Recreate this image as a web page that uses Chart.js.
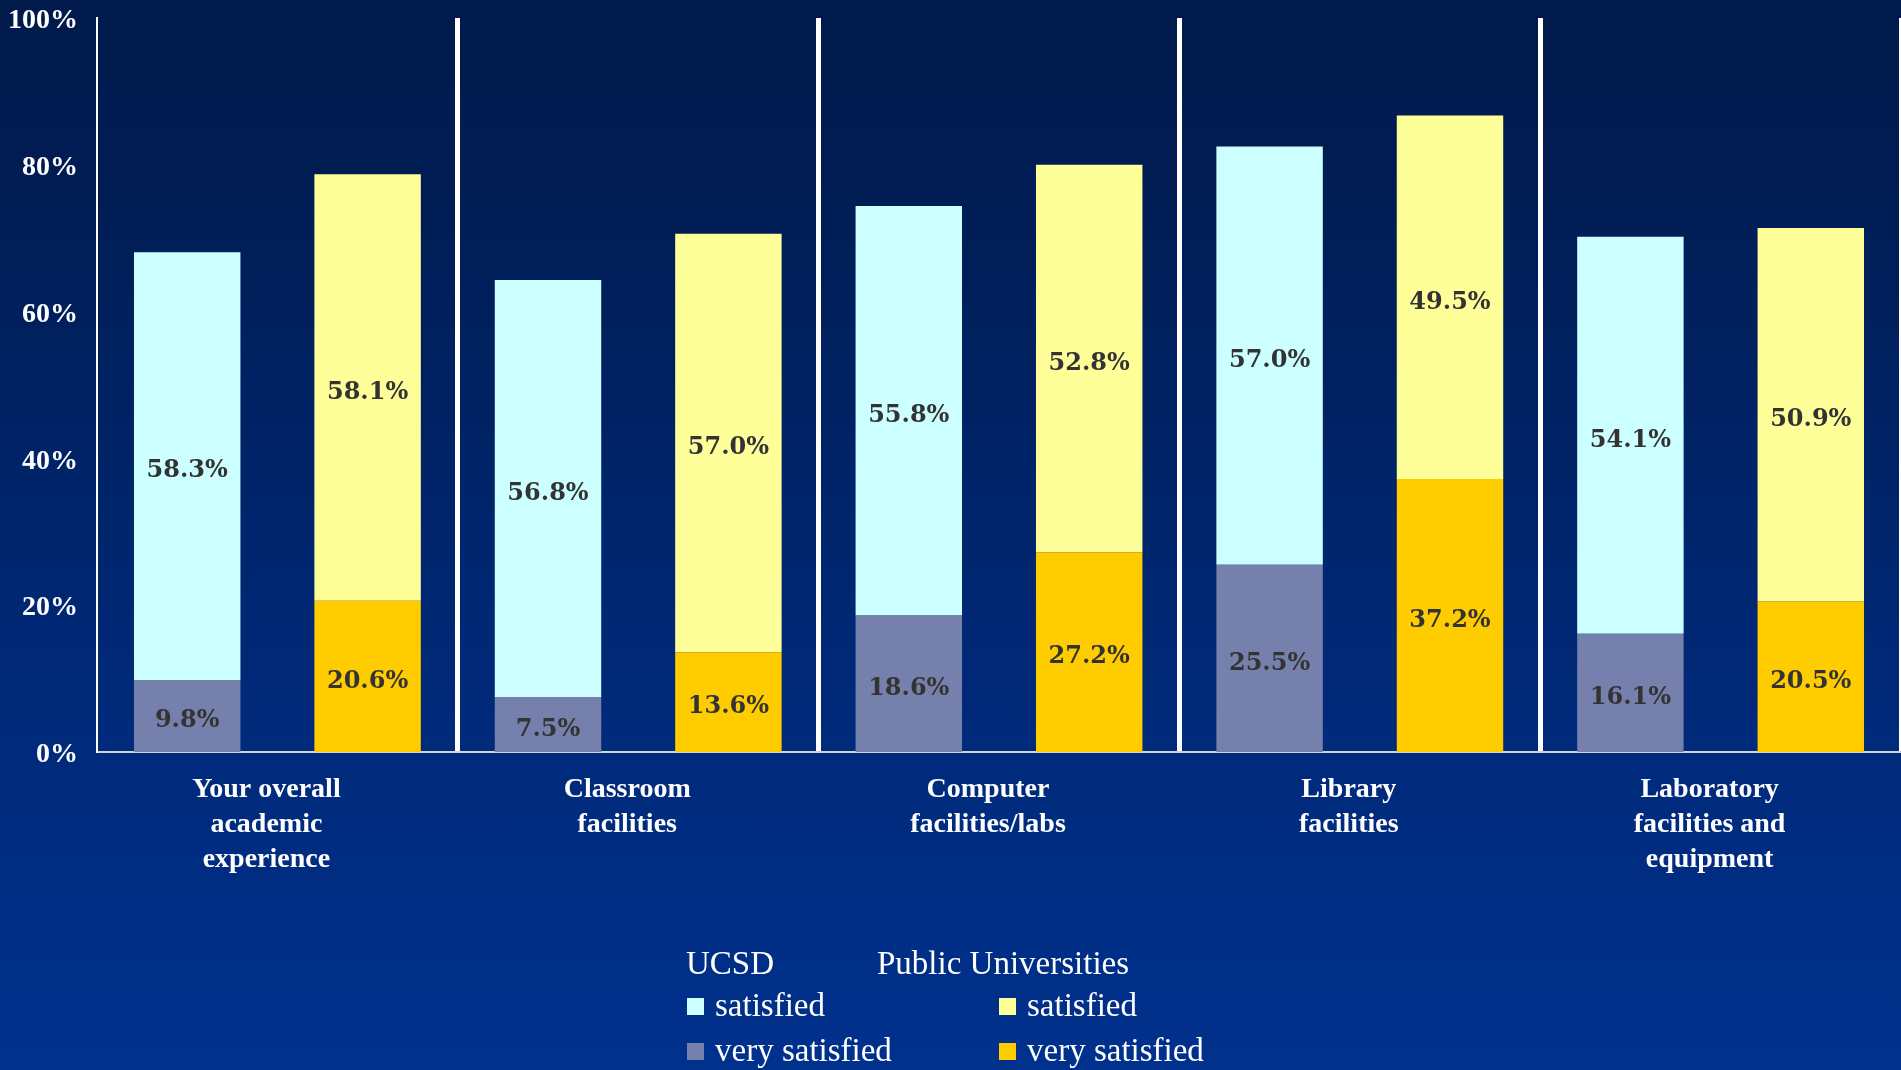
<!DOCTYPE html>
<html>
<head>
<meta charset="utf-8">
<script src="https://cdn.jsdelivr.net/npm/chart.js@4"></script>
<style>
  html, body { margin: 0; padding: 0; overflow: hidden; }
  body {
    width: 1901px; height: 1070px; position: relative;
    background: linear-gradient(to bottom, #001a4b 0%, #001d55 20%, #002875 60%, #00318d 100%);
  }
  #c { position: absolute; left: 0; top: 0; }
  .lg { position: absolute; color: #ffffff; font-family: "Liberation Serif", serif; font-size: 33px; line-height: 1; white-space: nowrap; }
  .sw { display: inline-block; width: 17px; height: 17px; margin-right: 11px; vertical-align: 1px; }
</style>
</head>
<body>
<canvas id="c" width="1901" height="1070"></canvas>
<div id="legend"></div>
<script>
const categories = [
  ["Your overall", "academic", "experience"],
  ["Classroom", "facilities"],
  ["Computer", "facilities/labs"],
  ["Library", "facilities"],
  ["Laboratory", "facilities and", "equipment"]
];
const ucsdVerySatisfied   = [9.8, 7.5, 18.6, 25.5, 16.1];
const ucsdSatisfied       = [58.3, 56.8, 55.8, 57.0, 54.1];
const publicVerySatisfied = [20.6, 13.6, 27.2, 37.2, 20.5];
const publicSatisfied     = [58.1, 57.0, 52.8, 49.5, 50.9];
const yTicks = [0, 20, 40, 60, 80, 100];

const groupNames = ["UCSD", "Public Universities"];
const levelNames = ["satisfied", "very satisfied"];
const colors = {
  ucsdSat: "#ccffff", ucsdVery: "#7680ac",
  pubSat: "#ffff99", pubVery: "#ffcc00"
};

const datasets = [
  { label: "UCSD very satisfied", data: ucsdVerySatisfied, backgroundColor: colors.ucsdVery, stack: "UCSD" },
  { label: "UCSD satisfied", data: ucsdSatisfied, backgroundColor: colors.ucsdSat, stack: "UCSD" },
  { label: "Public Universities very satisfied", data: publicVerySatisfied, backgroundColor: colors.pubVery, stack: "Public" },
  { label: "Public Universities satisfied", data: publicSatisfied, backgroundColor: colors.pubSat, stack: "Public" }
];
datasets.forEach(d => { d.barPercentage = 0.59; d.categoryPercentage = 1.0; d.borderWidth = 0; });

const valueLabels = {
  id: "valueLabels",
  afterDatasetsDraw(chart) {
    const ctx = chart.ctx;
    ctx.save();
    ctx.font = 'bold 24px "DejaVu Serif"';
    ctx.fillStyle = "#333333";
    ctx.textAlign = "center";
    ctx.textBaseline = "middle";
    chart.data.datasets.forEach((ds, i) => {
      const meta = chart.getDatasetMeta(i);
      meta.data.forEach((bar, j) => {
        const p = bar.getProps(["x", "y", "base"], true);
        ctx.fillText(ds.data[j].toFixed(1) + "%", p.x, (p.y + p.base) / 2 + 5);
      });
    });
    ctx.restore();
  }
};

Chart.defaults.font.family = '"Liberation Serif", serif';

new Chart(document.getElementById("c"), {
  type: "bar",
  data: { labels: categories, datasets: datasets },
  options: {
    responsive: false,
    animation: false,
    layout: { padding: { top: 18, right: 0, bottom: 0, left: 0 } },
    plugins: { legend: { display: false }, tooltip: { enabled: false }, title: { display: false } },
    scales: {
      x: {
        stacked: true,
        afterFit: s => { s.height = 318; s.paddingLeft = 0; s.paddingRight = 0; },
        grid: {
          display: true,
          offset: true,
          drawTicks: false,
          color: "#ffffff",
          lineWidth: c => (c.index === 0 ? 2 : (c.index >= categories.length ? 0 : 5))
        },
        border: { display: true, color: "#d4d4d4", width: 2 },
        ticks: {
          color: "#ffffff",
          padding: 20,
          labelOffset: -11,
          maxRotation: 0,
          autoSkip: false,
          font: { size: 28, weight: "bold", lineHeight: "35px" }
        }
      },
      y: {
        stacked: true,
        min: 0, max: 100,
        afterFit: s => { s.width = 97; s.paddingTop = 0; s.paddingBottom = 0; },
        afterBuildTicks: s => { s.ticks = yTicks.map(v => ({ value: v })); },
        grid: { display: false, drawTicks: false },
        border: { display: true, color: "#ffffff", width: 2 },
        ticks: {
          color: "#ffffff",
          padding: 19,
          labelOffset: 3,
          font: { size: 28, weight: "bold" },
          callback: v => v + "%"
        }
      }
    }
  },
  plugins: [valueLabels]
});

// Legend built from the same names and colours
const legend = document.getElementById("legend");
const colX = [687, 999];
const headX = [686, 877];
const rowY = [989, 1034];
const swatch = [[colors.ucsdSat, colors.ucsdVery], [colors.pubSat, colors.pubVery]];
groupNames.forEach((g, gi) => {
  const h = document.createElement("div");
  h.className = "lg";
  h.style.left = headX[gi] + "px";
  h.style.top = "947px";
  h.textContent = g;
  legend.appendChild(h);
  levelNames.forEach((l, li) => {
    const d = document.createElement("div");
    d.className = "lg";
    d.style.left = colX[gi] + "px";
    d.style.top = rowY[li] + "px";
    const s = document.createElement("span");
    s.className = "sw";
    s.style.background = swatch[gi][li];
    d.appendChild(s);
    d.appendChild(document.createTextNode(l));
    legend.appendChild(d);
  });
});
</script>
</body>
</html>
